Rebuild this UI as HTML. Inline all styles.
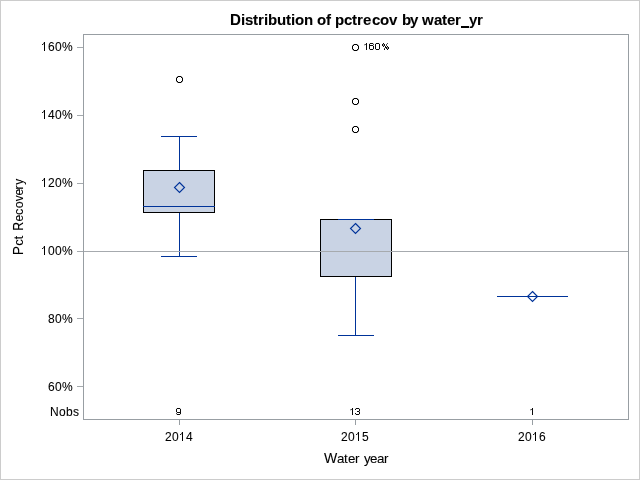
<!DOCTYPE html>
<html>
<head>
<meta charset="utf-8">
<title>Distribution of pctrecov by water_yr</title>
<style>
html,body{margin:0;padding:0;background:#fff;}
body{width:640px;height:480px;overflow:hidden;}
svg{display:block;will-change:transform;}
text{font-family:"Liberation Sans",sans-serif;fill:#000;stroke:#000;stroke-width:0.08px;}
</style>
</head>
<body>
<svg width="640" height="480" viewBox="0 0 640 480">
  <rect x="0" y="0" width="640" height="480" fill="#ffffff"/>
  <!-- outer border -->
  <g shape-rendering="crispEdges" fill="#cccccc">
    <rect x="0" y="0" width="640" height="1"/>
    <rect x="0" y="479" width="640" height="1"/>
    <rect x="0" y="0" width="1" height="480"/>
    <rect x="639" y="0" width="1" height="480"/>
  </g>

  <!-- box plots -->
  <g shape-rendering="crispEdges">
    <!-- 2014 whiskers -->
    <rect x="179" y="136" width="1" height="121" fill="#003399"/>
    <rect x="161" y="136" width="36" height="1" fill="#003399"/>
    <rect x="161" y="256" width="36" height="1" fill="#003399"/>
    <!-- 2014 box -->
    <rect x="143" y="170" width="72" height="43" fill="#000"/>
    <rect x="144" y="171" width="70" height="41" fill="#c9d3e4"/>
    <rect x="143" y="206" width="72" height="1" fill="#003399"/>
    <!-- 2015 whisker -->
    <rect x="355" y="276" width="1" height="60" fill="#003399"/>
    <rect x="338" y="335" width="36" height="1" fill="#003399"/>
    <!-- 2015 box -->
    <rect x="320" y="219" width="72" height="58" fill="#000"/>
    <rect x="321" y="220" width="70" height="56" fill="#c9d3e4"/>
    <rect x="338" y="219" width="36" height="1" fill="#003399"/>
    <!-- 2016 -->
    <rect x="497" y="296" width="71" height="1" fill="#003399"/>
  </g>

  <!-- reference line, frame, ticks -->
  <g shape-rendering="crispEdges" fill="#989ea3">
    <rect x="83" y="251" width="546" height="1" fill="#a6aaae"/>
    <rect x="83" y="34" width="546" height="1"/>
    <rect x="83" y="419" width="546" height="1"/>
    <rect x="83" y="34" width="1" height="386"/>
    <rect x="628" y="34" width="1" height="386"/>
    <rect x="77" y="47" width="6" height="1" fill="#a4a9ad"/>
    <rect x="77" y="115" width="6" height="1" fill="#a4a9ad"/>
    <rect x="77" y="183" width="6" height="1" fill="#a4a9ad"/>
    <rect x="77" y="251" width="6" height="1" fill="#a4a9ad"/>
    <rect x="77" y="318" width="6" height="1" fill="#a4a9ad"/>
    <rect x="77" y="386" width="6" height="1" fill="#a4a9ad"/>
    <rect x="179" y="420" width="1" height="5"/>
    <rect x="355" y="420" width="1" height="5"/>
    <rect x="532" y="420" width="1" height="5"/>
  </g>

  <!-- mean markers -->
  <g fill="none" stroke="#003399" stroke-width="1.15" stroke-linejoin="miter">
    <path d="M179.5 182.5 L184.5 187.5 L179.5 192.5 L174.5 187.5 Z"/>
    <path d="M355.5 223.5 L360.5 228.5 L355.5 233.5 L350.5 228.5 Z"/>
    <path d="M532.5 291.5 L537.5 296.5 L532.5 301.5 L527.5 296.5 Z"/>
  </g>


  <!-- outliers -->
  <g shape-rendering="crispEdges">
  <rect x="177" y="76" width="1" height="1" fill="#909090"/><rect x="178" y="76" width="1" height="1" fill="#000"/><rect x="179" y="76" width="1" height="1" fill="#000"/><rect x="180" y="76" width="1" height="1" fill="#000"/><rect x="181" y="76" width="1" height="1" fill="#909090"/><rect x="176" y="77" width="1" height="1" fill="#909090"/><rect x="177" y="77" width="1" height="1" fill="#000"/><rect x="181" y="77" width="1" height="1" fill="#000"/><rect x="182" y="77" width="1" height="1" fill="#909090"/><rect x="176" y="78" width="1" height="1" fill="#000"/><rect x="182" y="78" width="1" height="1" fill="#000"/><rect x="176" y="79" width="1" height="1" fill="#000"/><rect x="182" y="79" width="1" height="1" fill="#000"/><rect x="176" y="80" width="1" height="1" fill="#000"/><rect x="182" y="80" width="1" height="1" fill="#000"/><rect x="176" y="81" width="1" height="1" fill="#909090"/><rect x="177" y="81" width="1" height="1" fill="#000"/><rect x="181" y="81" width="1" height="1" fill="#000"/><rect x="182" y="81" width="1" height="1" fill="#909090"/><rect x="177" y="82" width="1" height="1" fill="#909090"/><rect x="178" y="82" width="1" height="1" fill="#000"/><rect x="179" y="82" width="1" height="1" fill="#000"/><rect x="180" y="82" width="1" height="1" fill="#000"/><rect x="181" y="82" width="1" height="1" fill="#909090"/>
  <rect x="353" y="44" width="1" height="1" fill="#909090"/><rect x="354" y="44" width="1" height="1" fill="#000"/><rect x="355" y="44" width="1" height="1" fill="#000"/><rect x="356" y="44" width="1" height="1" fill="#000"/><rect x="357" y="44" width="1" height="1" fill="#909090"/><rect x="352" y="45" width="1" height="1" fill="#909090"/><rect x="353" y="45" width="1" height="1" fill="#000"/><rect x="357" y="45" width="1" height="1" fill="#000"/><rect x="358" y="45" width="1" height="1" fill="#909090"/><rect x="352" y="46" width="1" height="1" fill="#000"/><rect x="358" y="46" width="1" height="1" fill="#000"/><rect x="352" y="47" width="1" height="1" fill="#000"/><rect x="358" y="47" width="1" height="1" fill="#000"/><rect x="352" y="48" width="1" height="1" fill="#000"/><rect x="358" y="48" width="1" height="1" fill="#000"/><rect x="352" y="49" width="1" height="1" fill="#909090"/><rect x="353" y="49" width="1" height="1" fill="#000"/><rect x="357" y="49" width="1" height="1" fill="#000"/><rect x="358" y="49" width="1" height="1" fill="#909090"/><rect x="353" y="50" width="1" height="1" fill="#909090"/><rect x="354" y="50" width="1" height="1" fill="#000"/><rect x="355" y="50" width="1" height="1" fill="#000"/><rect x="356" y="50" width="1" height="1" fill="#000"/><rect x="357" y="50" width="1" height="1" fill="#909090"/>
  <rect x="353" y="98" width="1" height="1" fill="#909090"/><rect x="354" y="98" width="1" height="1" fill="#000"/><rect x="355" y="98" width="1" height="1" fill="#000"/><rect x="356" y="98" width="1" height="1" fill="#000"/><rect x="357" y="98" width="1" height="1" fill="#909090"/><rect x="352" y="99" width="1" height="1" fill="#909090"/><rect x="353" y="99" width="1" height="1" fill="#000"/><rect x="357" y="99" width="1" height="1" fill="#000"/><rect x="358" y="99" width="1" height="1" fill="#909090"/><rect x="352" y="100" width="1" height="1" fill="#000"/><rect x="358" y="100" width="1" height="1" fill="#000"/><rect x="352" y="101" width="1" height="1" fill="#000"/><rect x="358" y="101" width="1" height="1" fill="#000"/><rect x="352" y="102" width="1" height="1" fill="#000"/><rect x="358" y="102" width="1" height="1" fill="#000"/><rect x="352" y="103" width="1" height="1" fill="#909090"/><rect x="353" y="103" width="1" height="1" fill="#000"/><rect x="357" y="103" width="1" height="1" fill="#000"/><rect x="358" y="103" width="1" height="1" fill="#909090"/><rect x="353" y="104" width="1" height="1" fill="#909090"/><rect x="354" y="104" width="1" height="1" fill="#000"/><rect x="355" y="104" width="1" height="1" fill="#000"/><rect x="356" y="104" width="1" height="1" fill="#000"/><rect x="357" y="104" width="1" height="1" fill="#909090"/>
  <rect x="353" y="126" width="1" height="1" fill="#909090"/><rect x="354" y="126" width="1" height="1" fill="#000"/><rect x="355" y="126" width="1" height="1" fill="#000"/><rect x="356" y="126" width="1" height="1" fill="#000"/><rect x="357" y="126" width="1" height="1" fill="#909090"/><rect x="352" y="127" width="1" height="1" fill="#909090"/><rect x="353" y="127" width="1" height="1" fill="#000"/><rect x="357" y="127" width="1" height="1" fill="#000"/><rect x="358" y="127" width="1" height="1" fill="#909090"/><rect x="352" y="128" width="1" height="1" fill="#000"/><rect x="358" y="128" width="1" height="1" fill="#000"/><rect x="352" y="129" width="1" height="1" fill="#000"/><rect x="358" y="129" width="1" height="1" fill="#000"/><rect x="352" y="130" width="1" height="1" fill="#000"/><rect x="358" y="130" width="1" height="1" fill="#000"/><rect x="352" y="131" width="1" height="1" fill="#909090"/><rect x="353" y="131" width="1" height="1" fill="#000"/><rect x="357" y="131" width="1" height="1" fill="#000"/><rect x="358" y="131" width="1" height="1" fill="#909090"/><rect x="353" y="132" width="1" height="1" fill="#909090"/><rect x="354" y="132" width="1" height="1" fill="#000"/><rect x="355" y="132" width="1" height="1" fill="#000"/><rect x="356" y="132" width="1" height="1" fill="#000"/><rect x="357" y="132" width="1" height="1" fill="#909090"/>
  </g>

  <!-- title -->
  <text x="241 245 253 258 264 268 277 286 291 295 304 317 326 335 344 352 357 363 372 380 389 402 410 422 434 442 447 455 469 477" y="25" font-size="15" font-weight="bold" stroke="#000" stroke-width="0.3">istributionofpctrecovbywateryr</text>
  <clipPath id="dtop"><rect x="225" y="10" width="20" height="10"/></clipPath><clipPath id="dbot"><rect x="225" y="20" width="20" height="9"/></clipPath>
  <text x="230" y="25" font-size="15" font-weight="bold" stroke="#000" stroke-width="0.3" clip-path="url(#dbot)">D</text><text x="230" y="24" font-size="15" font-weight="bold" stroke="#000" stroke-width="0.3" clip-path="url(#dtop)">D</text>
  <rect x="461" y="26" width="8" height="2" fill="#000" shape-rendering="crispEdges"/>
  <!-- y axis tick labels -->
  <g shape-rendering="crispEdges"><rect x="44" y="42" width="1" height="9" fill="#000"/><rect x="43" y="43" width="1" height="1" fill="#606060"/><rect x="42" y="44" width="1" height="1" fill="#1c1c1c"/><rect x="43" y="42" width="1" height="1" fill="#d8d8d8"/><rect x="43" y="44" width="1" height="1" fill="#c4c4c4"/></g>
  <text x="48 55 62" y="51" font-size="12">60%</text>
  <g shape-rendering="crispEdges"><rect x="44" y="110" width="1" height="9" fill="#000"/><rect x="43" y="111" width="1" height="1" fill="#606060"/><rect x="42" y="112" width="1" height="1" fill="#1c1c1c"/><rect x="43" y="110" width="1" height="1" fill="#d8d8d8"/><rect x="43" y="112" width="1" height="1" fill="#c4c4c4"/></g>
  <text x="48 55 62" y="119" font-size="12">40%</text>
  <g shape-rendering="crispEdges"><rect x="44" y="178" width="1" height="9" fill="#000"/><rect x="43" y="179" width="1" height="1" fill="#606060"/><rect x="42" y="180" width="1" height="1" fill="#1c1c1c"/><rect x="43" y="178" width="1" height="1" fill="#d8d8d8"/><rect x="43" y="180" width="1" height="1" fill="#c4c4c4"/></g>
  <text x="48 55 62" y="187" font-size="12">20%</text>
  <g shape-rendering="crispEdges"><rect x="44" y="246" width="1" height="9" fill="#000"/><rect x="43" y="247" width="1" height="1" fill="#606060"/><rect x="42" y="248" width="1" height="1" fill="#1c1c1c"/><rect x="43" y="246" width="1" height="1" fill="#d8d8d8"/><rect x="43" y="248" width="1" height="1" fill="#c4c4c4"/></g>
  <text x="48 55 62" y="255" font-size="12">00%</text>
  <text x="48 55 62" y="323" font-size="12">80%</text>
  <text x="48 55 62" y="391" font-size="12">60%</text>
  <text x="50 59 66 73" y="416" font-size="12">Nobs</text>
  <!-- x axis tick labels -->
  <g shape-rendering="crispEdges"><rect x="182" y="432" width="1" height="9" fill="#000"/><rect x="181" y="433" width="1" height="1" fill="#606060"/><rect x="180" y="434" width="1" height="1" fill="#1c1c1c"/><rect x="181" y="432" width="1" height="1" fill="#d8d8d8"/><rect x="181" y="434" width="1" height="1" fill="#c4c4c4"/></g>
  <text x="165 172 186" y="441" font-size="12">204</text>
  <g shape-rendering="crispEdges"><rect x="358" y="432" width="1" height="9" fill="#000"/><rect x="357" y="433" width="1" height="1" fill="#606060"/><rect x="356" y="434" width="1" height="1" fill="#1c1c1c"/><rect x="357" y="432" width="1" height="1" fill="#d8d8d8"/><rect x="357" y="434" width="1" height="1" fill="#c4c4c4"/></g>
  <text x="341 348 362" y="441" font-size="12">205</text>
  <g shape-rendering="crispEdges"><rect x="535" y="432" width="1" height="9" fill="#000"/><rect x="534" y="433" width="1" height="1" fill="#606060"/><rect x="533" y="434" width="1" height="1" fill="#1c1c1c"/><rect x="534" y="432" width="1" height="1" fill="#d8d8d8"/><rect x="534" y="434" width="1" height="1" fill="#c4c4c4"/></g>
  <text x="518 525 539" y="441" font-size="12">206</text>
  <!-- Nobs counts and outlier label -->
  <g shape-rendering="crispEdges">
  <rect x="176" y="408" width="1" height="1" fill="#cfcfcf"/><rect x="177" y="408" width="3" height="1" fill="#0a0a0a"/><rect x="180" y="408" width="1" height="1" fill="#cfcfcf"/><rect x="176" y="409" width="1" height="1" fill="#0a0a0a"/><rect x="180" y="409" width="1" height="1" fill="#0a0a0a"/><rect x="176" y="410" width="1" height="1" fill="#0a0a0a"/><rect x="180" y="410" width="1" height="1" fill="#0a0a0a"/><rect x="176" y="411" width="1" height="1" fill="#0a0a0a"/><rect x="180" y="411" width="1" height="1" fill="#0a0a0a"/><rect x="176" y="412" width="1" height="1" fill="#cfcfcf"/><rect x="177" y="412" width="4" height="1" fill="#0a0a0a"/><rect x="176" y="413" width="1" height="1" fill="#505050"/><rect x="180" y="413" width="1" height="1" fill="#0a0a0a"/><rect x="176" y="414" width="1" height="1" fill="#cfcfcf"/><rect x="177" y="414" width="3" height="1" fill="#0a0a0a"/><rect x="180" y="414" width="1" height="1" fill="#cfcfcf"/>
  <rect x="352" y="408" width="1" height="1" fill="#0a0a0a"/><rect x="350" y="409" width="1" height="1" fill="#9a9a9a"/><rect x="351" y="409" width="1" height="1" fill="#505050"/><rect x="352" y="409" width="1" height="1" fill="#0a0a0a"/><rect x="350" y="410" width="1" height="1" fill="#cfcfcf"/><rect x="352" y="410" width="1" height="1" fill="#0a0a0a"/><rect x="352" y="411" width="1" height="1" fill="#0a0a0a"/><rect x="352" y="412" width="1" height="1" fill="#0a0a0a"/><rect x="352" y="413" width="1" height="1" fill="#0a0a0a"/><rect x="352" y="414" width="1" height="1" fill="#0a0a0a"/><rect x="355" y="408" width="1" height="1" fill="#cfcfcf"/><rect x="356" y="408" width="3" height="1" fill="#0a0a0a"/><rect x="359" y="408" width="1" height="1" fill="#cfcfcf"/><rect x="355" y="409" width="1" height="1" fill="#0a0a0a"/><rect x="359" y="409" width="1" height="1" fill="#0a0a0a"/><rect x="359" y="410" width="1" height="1" fill="#0a0a0a"/><rect x="357" y="411" width="2" height="1" fill="#0a0a0a"/><rect x="359" y="411" width="1" height="1" fill="#9a9a9a"/><rect x="359" y="412" width="1" height="1" fill="#0a0a0a"/><rect x="355" y="413" width="1" height="1" fill="#0a0a0a"/><rect x="359" y="413" width="1" height="1" fill="#0a0a0a"/><rect x="355" y="414" width="1" height="1" fill="#cfcfcf"/><rect x="356" y="414" width="3" height="1" fill="#0a0a0a"/><rect x="359" y="414" width="1" height="1" fill="#cfcfcf"/>
  <rect x="532" y="408" width="1" height="1" fill="#0a0a0a"/><rect x="530" y="409" width="1" height="1" fill="#9a9a9a"/><rect x="531" y="409" width="1" height="1" fill="#505050"/><rect x="532" y="409" width="1" height="1" fill="#0a0a0a"/><rect x="530" y="410" width="1" height="1" fill="#cfcfcf"/><rect x="532" y="410" width="1" height="1" fill="#0a0a0a"/><rect x="532" y="411" width="1" height="1" fill="#0a0a0a"/><rect x="532" y="412" width="1" height="1" fill="#0a0a0a"/><rect x="532" y="413" width="1" height="1" fill="#0a0a0a"/><rect x="532" y="414" width="1" height="1" fill="#0a0a0a"/>
  <rect x="366" y="43" width="1" height="1" fill="#0a0a0a"/><rect x="364" y="44" width="1" height="1" fill="#9a9a9a"/><rect x="365" y="44" width="1" height="1" fill="#505050"/><rect x="366" y="44" width="1" height="1" fill="#0a0a0a"/><rect x="364" y="45" width="1" height="1" fill="#cfcfcf"/><rect x="366" y="45" width="1" height="1" fill="#0a0a0a"/><rect x="366" y="46" width="1" height="1" fill="#0a0a0a"/><rect x="366" y="47" width="1" height="1" fill="#0a0a0a"/><rect x="366" y="48" width="1" height="1" fill="#0a0a0a"/><rect x="366" y="49" width="1" height="1" fill="#0a0a0a"/><rect x="369" y="43" width="1" height="1" fill="#cfcfcf"/><rect x="370" y="43" width="3" height="1" fill="#0a0a0a"/><rect x="373" y="43" width="1" height="1" fill="#cfcfcf"/><rect x="369" y="44" width="1" height="1" fill="#0a0a0a"/><rect x="373" y="44" width="1" height="1" fill="#505050"/><rect x="369" y="45" width="4" height="1" fill="#0a0a0a"/><rect x="373" y="45" width="1" height="1" fill="#cfcfcf"/><rect x="369" y="46" width="1" height="1" fill="#0a0a0a"/><rect x="373" y="46" width="1" height="1" fill="#0a0a0a"/><rect x="369" y="47" width="1" height="1" fill="#0a0a0a"/><rect x="373" y="47" width="1" height="1" fill="#0a0a0a"/><rect x="369" y="48" width="1" height="1" fill="#0a0a0a"/><rect x="373" y="48" width="1" height="1" fill="#0a0a0a"/><rect x="369" y="49" width="1" height="1" fill="#cfcfcf"/><rect x="370" y="49" width="3" height="1" fill="#0a0a0a"/><rect x="373" y="49" width="1" height="1" fill="#cfcfcf"/><rect x="375" y="43" width="1" height="1" fill="#cfcfcf"/><rect x="376" y="43" width="3" height="1" fill="#0a0a0a"/><rect x="379" y="43" width="1" height="1" fill="#cfcfcf"/><rect x="375" y="44" width="1" height="1" fill="#0a0a0a"/><rect x="379" y="44" width="1" height="1" fill="#0a0a0a"/><rect x="375" y="45" width="1" height="1" fill="#0a0a0a"/><rect x="379" y="45" width="1" height="1" fill="#0a0a0a"/><rect x="375" y="46" width="1" height="1" fill="#0a0a0a"/><rect x="379" y="46" width="1" height="1" fill="#0a0a0a"/><rect x="375" y="47" width="1" height="1" fill="#0a0a0a"/><rect x="379" y="47" width="1" height="1" fill="#0a0a0a"/><rect x="375" y="48" width="1" height="1" fill="#0a0a0a"/><rect x="379" y="48" width="1" height="1" fill="#0a0a0a"/><rect x="375" y="49" width="1" height="1" fill="#cfcfcf"/><rect x="376" y="49" width="3" height="1" fill="#0a0a0a"/><rect x="379" y="49" width="1" height="1" fill="#cfcfcf"/><rect x="383" y="43" width="1" height="1" fill="#0a0a0a"/><rect x="387" y="43" width="1" height="1" fill="#505050"/><rect x="382" y="44" width="1" height="1" fill="#0a0a0a"/><rect x="383" y="44" width="1" height="1" fill="#9a9a9a"/><rect x="384" y="44" width="1" height="1" fill="#0a0a0a"/><rect x="386" y="44" width="1" height="1" fill="#505050"/><rect x="382" y="45" width="1" height="1" fill="#0a0a0a"/><rect x="383" y="45" width="1" height="1" fill="#9a9a9a"/><rect x="384" y="45" width="1" height="1" fill="#0a0a0a"/><rect x="386" y="45" width="1" height="1" fill="#505050"/><rect x="383" y="46" width="1" height="1" fill="#0a0a0a"/><rect x="385" y="46" width="1" height="1" fill="#0a0a0a"/><rect x="387" y="46" width="1" height="1" fill="#0a0a0a"/><rect x="385" y="47" width="2" height="1" fill="#0a0a0a"/><rect x="387" y="47" width="1" height="1" fill="#9a9a9a"/><rect x="388" y="47" width="1" height="1" fill="#0a0a0a"/><rect x="384" y="48" width="1" height="1" fill="#505050"/><rect x="386" y="48" width="1" height="1" fill="#0a0a0a"/><rect x="387" y="48" width="1" height="1" fill="#9a9a9a"/><rect x="388" y="48" width="1" height="1" fill="#0a0a0a"/><rect x="384" y="49" width="1" height="1" fill="#0a0a0a"/><rect x="387" y="49" width="1" height="1" fill="#0a0a0a"/>
  </g>
  <!-- axis labels -->
  <text x="337 344 348 355 364 370 377 384" y="463" font-size="13.33">ateryear</text>
  <text x="324" y="463" font-size="14">W</text>
  <text transform="translate(23,254.99) rotate(-90) scale(1,1.085)" font-size="13.33">P</text>
  <text transform="translate(23,245.85) rotate(-90) scale(0.97,1)" font-size="13.33">c</text>
  <text transform="translate(23,239.40) rotate(-90) scale(1,1)" font-size="13.33">t</text>
  <text transform="translate(23,230.82) rotate(-90) scale(0.93,1.085)" font-size="13.33">R</text>
  <text transform="translate(23,221.61) rotate(-90) scale(0.9,1)" font-size="13.33">e</text>
  <text transform="translate(23,215.04) rotate(-90) scale(0.95,1)" font-size="13.33">c</text>
  <text transform="translate(23,208.22) rotate(-90) scale(0.93,1)" font-size="13.33">o</text>
  <text transform="translate(23,201.34) rotate(-90) scale(0.88,1)" font-size="13.33">v</text>
  <text transform="translate(23,195.61) rotate(-90) scale(0.9,1)" font-size="13.33">e</text>
  <text transform="translate(23,189.52) rotate(-90) scale(0.93,1)" font-size="13.33">r</text>
  <text transform="translate(23,184.83) rotate(-90) scale(0.9,1)" font-size="13.33">y</text>
</svg>
</body>
</html>
